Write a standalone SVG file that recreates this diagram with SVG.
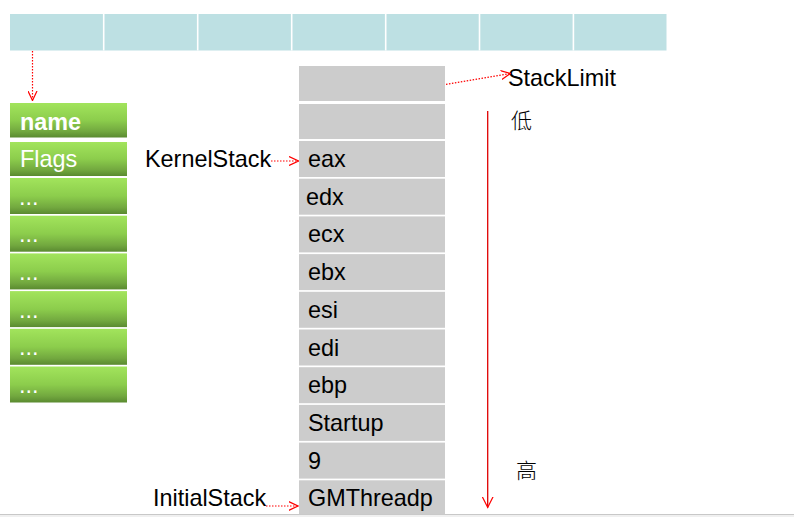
<svg xmlns="http://www.w3.org/2000/svg" width="794" height="517" viewBox="0 0 794 517">
<defs>
<linearGradient id="g" x1="0" y1="0" x2="0" y2="1">
<stop offset="0" stop-color="#a2e45c"/>
<stop offset="0.5" stop-color="#8ccd4c"/>
<stop offset="0.82" stop-color="#72a83f"/>
<stop offset="1" stop-color="#5a8a30"/>
</linearGradient>
<marker id="ah" viewBox="0 0 10 10" refX="9.5" refY="5" markerWidth="10" markerHeight="10" markerUnits="userSpaceOnUse" orient="auto">
<path d="M0,0.5 L9.5,5 L0,9.5" fill="none" stroke="#ff0000" stroke-width="1.2"/>
</marker>
<marker id="ah2" viewBox="0 0 12 12" refX="11" refY="6" markerWidth="12" markerHeight="12" markerUnits="userSpaceOnUse" orient="auto">
<path d="M0,0.5 L11,6 L0,11.5" fill="none" stroke="#ff0000" stroke-width="1.2"/>
</marker>
</defs>
<style>
.bar{fill:#bde0e3}
.sep{stroke:#ffffff;stroke-width:1.6}
.gc{fill:url(#g)}
.gt{font-family:"Liberation Sans",Arial,sans-serif;font-size:23.4px;fill:#ffffff}
.sc{fill:#cccccc}
.st{font-family:"Liberation Sans",Arial,sans-serif;font-size:23.4px;fill:#000000}
.lb{font-family:"Liberation Sans",Arial,sans-serif;font-size:23.4px;fill:#000000}
.cjk{font-family:"Noto Sans CJK SC",sans-serif;font-size:21px;font-weight:300;fill:#000000}
.dot{fill:none;stroke:#ff0000;stroke-width:1.2;stroke-dasharray:1.5 1.5}
</style>
<rect x="0" y="0" width="794" height="517" fill="#ffffff"/>
<rect x="0" y="514" width="794" height="1" fill="#c8c8c8"/>
<rect x="0" y="515" width="794" height="2" fill="#f0f0f0"/>

<g id="array">
<rect class="bar" x="10" y="14" width="656.5" height="36.5"/>
<line class="sep" x1="103.7" y1="14" x2="103.7" y2="50.5"/>
<line class="sep" x1="197.7" y1="14" x2="197.7" y2="50.5"/>
<line class="sep" x1="291.7" y1="14" x2="291.7" y2="50.5"/>
<line class="sep" x1="385.7" y1="14" x2="385.7" y2="50.5"/>
<line class="sep" x1="479.5" y1="14" x2="479.5" y2="50.5"/>
<line class="sep" x1="573.4" y1="14" x2="573.4" y2="50.5"/>
</g>

<g id="thread">
<rect class="gc" x="10" y="103" width="117" height="34.5"/>
<text class="gt" x="20" y="129.5" font-weight="bold">name</text>
<rect class="gc" x="10" y="142" width="117" height="34"/>
<text class="gt" x="20" y="167">Flags</text>
<rect class="gc" x="10" y="178" width="117" height="36"/>
<text class="gt" x="19" y="204.5">...</text>
<rect class="gc" x="10" y="215.7" width="117" height="36"/>
<text class="gt" x="19" y="242.2">...</text>
<rect class="gc" x="10" y="253.4" width="117" height="36"/>
<text class="gt" x="19" y="279.9">...</text>
<rect class="gc" x="10" y="291.1" width="117" height="36"/>
<text class="gt" x="19" y="317.6">...</text>
<rect class="gc" x="10" y="328.8" width="117" height="36"/>
<text class="gt" x="19" y="355.3">...</text>
<rect class="gc" x="10" y="366.5" width="117" height="36"/>
<text class="gt" x="19" y="393">...</text>
</g>

<g id="stack">
<rect class="sc" x="299" y="66" width="146" height="35"/>
<rect class="sc" x="299" y="104" width="146" height="35"/>
<rect class="sc" x="299" y="141" width="146" height="36"/>
<text class="st" x="308" y="167">eax</text>
<rect class="sc" x="299" y="178.7" width="146" height="36"/>
<text class="st" x="306" y="204.7">edx</text>
<rect class="sc" x="299" y="216.4" width="146" height="36"/>
<text class="st" x="308" y="242.4">ecx</text>
<rect class="sc" x="299" y="254.1" width="146" height="36"/>
<text class="st" x="308" y="280.1">ebx</text>
<rect class="sc" x="299" y="291.8" width="146" height="36"/>
<text class="st" x="308" y="317.8">esi</text>
<rect class="sc" x="299" y="329.5" width="146" height="36"/>
<text class="st" x="308" y="355.5">edi</text>
<rect class="sc" x="299" y="367.2" width="146" height="36"/>
<text class="st" x="308" y="393.2">ebp</text>
<rect class="sc" x="299" y="404.9" width="146" height="36"/>
<text class="st" x="308" y="430.9">Startup</text>
<rect class="sc" x="299" y="442.6" width="146" height="36"/>
<text class="st" x="308" y="468.6">9</text>
<rect class="sc" x="299" y="480.3" width="146" height="34"/>
<text class="st" x="308" y="506.3">GMThreadp</text>
</g>

<g id="labels">
<text class="lb" x="145" y="167">KernelStack</text>
<text class="lb" x="153" y="506">InitialStack</text>
<text class="lb" x="508" y="86">StackLimit</text>
<text class="cjk" x="511" y="128">低</text>
<text class="cjk" x="516" y="478">高</text>
</g>

<g id="connectors">
<line class="dot" x1="32.5" y1="51" x2="32.5" y2="100.5" marker-end="url(#ah)"/>
<line class="dot" x1="271" y1="161" x2="298.5" y2="161" marker-end="url(#ah)"/>
<line class="dot" x1="266" y1="506" x2="298" y2="506" marker-end="url(#ah)"/>
<line class="dot" x1="446" y1="84.3" x2="510.5" y2="73.5" marker-end="url(#ah)"/>
<line x1="487.7" y1="111" x2="487.7" y2="507.5" stroke="#e00000" stroke-width="1.3" marker-end="url(#ah2)"/>
</g>
</svg>
